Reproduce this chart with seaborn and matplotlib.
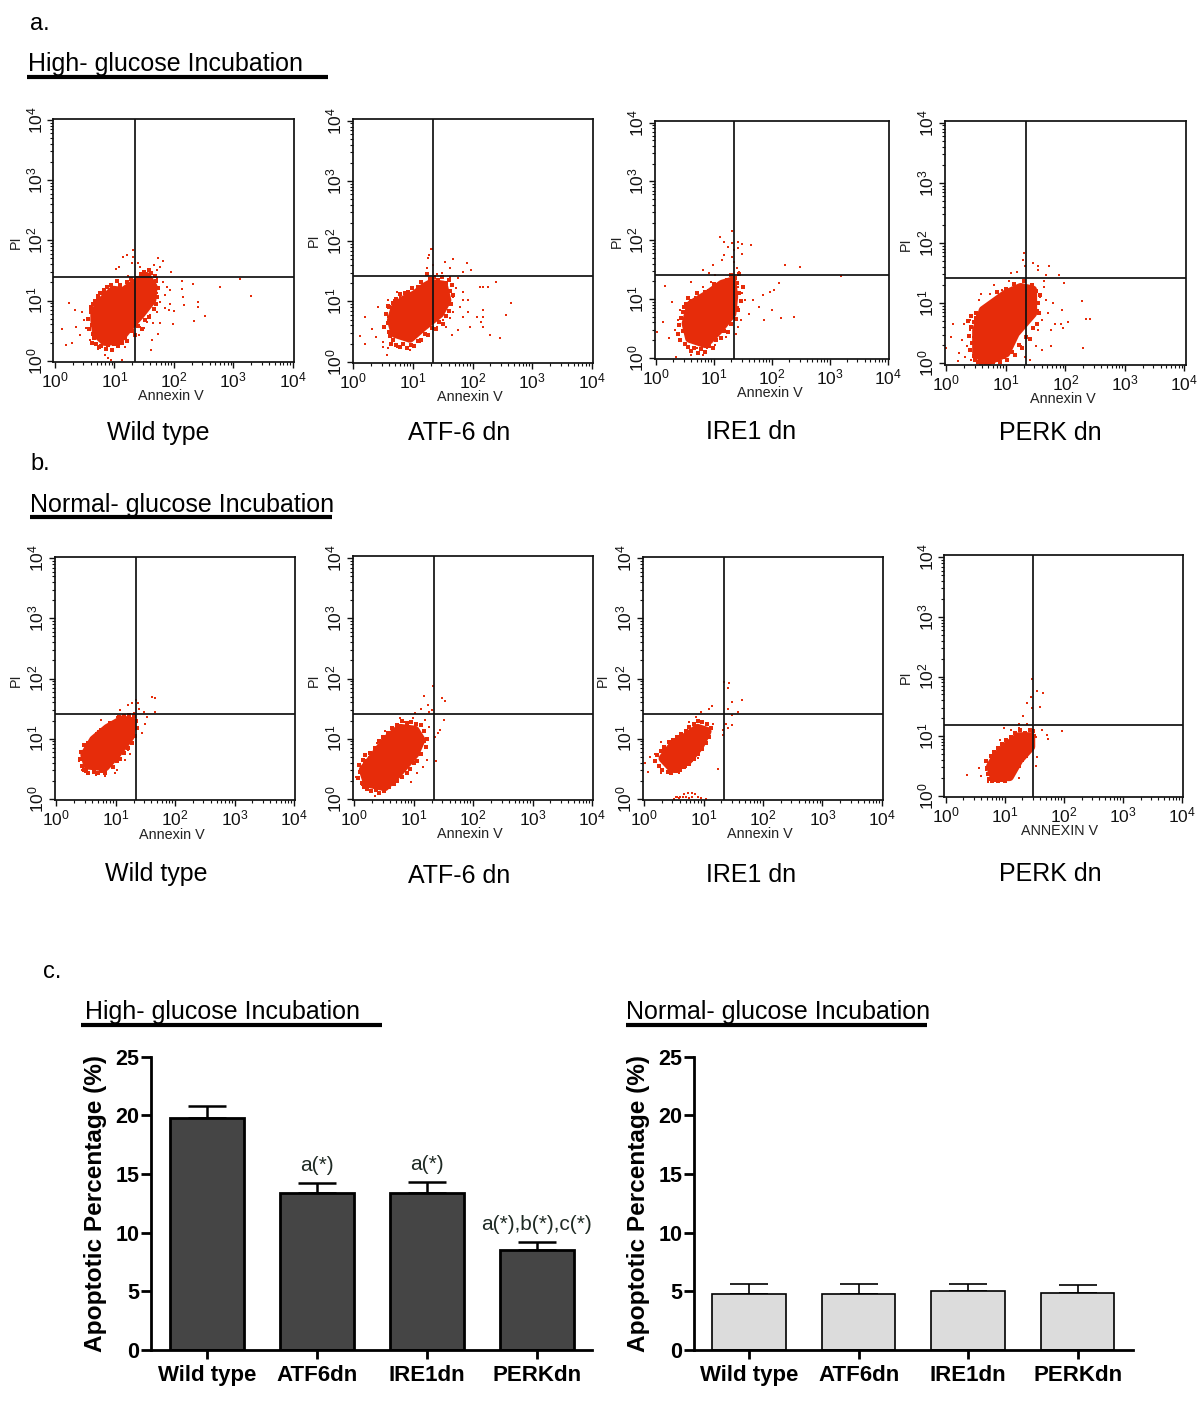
"""Flow cytometry panels and apoptosis bar charts"""
import numpy as np
import pandas as pd
import matplotlib
matplotlib.use('Agg')
import matplotlib.pyplot as plt
from matplotlib.lines import Line2D
import seaborn as sns

# flow data is in log10 decades.
# *_CORE is the outline of the solid part of each cloud, *_EDGE the crowded events
# along its rim, and the plain lists are the scattered single events
A1_CORE_X = [0.67, 0.70, 0.84, 1.07, 1.23, 1.43, 1.63, 1.65, 1.54, 1.35, 1.15, 0.98, 0.81, 0.67]
A1_CORE_Y = [0.68, 0.45, 0.32, 0.34, 0.54, 0.76, 1.01, 1.23, 1.40, 1.29, 1.15, 1.17, 1.01, 0.81]
A1_EDGE_X = [.60, .56, .62, .58, .64, .60, .66, .63, .69, .67, .74, .72, .78, .80, .86, .90, .96, 1.0, 1.06, 1.12, 1.18, 1.22, 1.30, 1.34, 1.40, 1.46, 1.52, 1.58, 1.66, 1.70, 1.72, 1.74, 1.70, 1.68, 1.62, 1.58, 1.50, 1.44, 1.38, 1.28, 1.22, 1.10, 1.04, .94, .88, .82, .76, .72, .68, .64]
A1_EDGE_Y = [.85, .70, .60, .52, .44, .90, .38, .30, .28, .95, .22, 1.05, .25, 1.12, .20, .26, .18, .27, .24, .30, .38, .33, .50, .42, .58, .52, .68, .72, .86, .95, 1.06, 1.20, 1.32, 1.40, 1.46, 1.50, 1.48, 1.44, 1.38, 1.36, 1.30, 1.25, 1.32, 1.26, 1.22, 1.18, 1.12, 1.08, 1.0, .95]
A1_X = [3.12, 3.29, 2.78, 2.53, 2.34, 2.40, 2.40, 2.32, 2.14, 2.13, 2.15, 2.17, 2.00, 1.99, 1.91, 1.32, 1.32, 1.29, 1.22, 1.14, 1.07, 1.03, 1.23, 1.40, 1.43, 1.73, 1.82, 1.67, 1.71, 1.95, 1.76, 1.54, 1.60, 1.71, 1.82, 1.88, 1.93, 1.85, 1.71, 1.77, 1.93, 1.85, 1.71, 1.60, 1.54, 1.43, 1.65, 1.77, 1.49, 1.63, 1.61, 1.74, 1.42, 1.18, 1.12, 0.95, 0.90, 0.84, 0.73, 0.59, 0.42, 0.28, 0.18, 0.12, 0.24, 0.34, 0.45, 0.48, 0.53, 0.59, 0.35, 0.70]
A1_Y = [1.35, 1.07, 1.22, 0.74, 0.66, 0.98, 0.90, 1.27, 1.32, 1.19, 1.06, 0.93, 0.83, 0.61, 0.84, 1.84, 1.73, 1.62, 1.76, 1.73, 1.56, 1.52, 1.41, 1.62, 1.56, 1.70, 1.65, 1.59, 1.51, 1.48, 1.56, 1.42, 1.42, 1.37, 1.31, 1.23, 1.17, 1.09, 1.12, 0.98, 0.95, 0.87, 0.81, 0.76, 0.65, 0.56, 0.62, 0.63, 0.54, 0.34, 0.17, 0.45, 0.43, 0.23, 0.01, 0.01, 0.04, 0.09, 0.20, 0.35, 0.43, 0.30, 0.26, 0.52, 0.96, 0.84, 0.81, 0.67, 0.54, 0.79, 0.56, 1.01]

A2_CORE_X = [0.64, 0.70, 0.95, 1.17, 1.45, 1.57, 1.51, 1.31, 1.20, 1.03, 0.84, 0.70]
A2_CORE_Y = [0.69, 0.47, 0.39, 0.58, 0.80, 1.02, 1.27, 1.30, 1.24, 1.11, 1.02, 0.89]
A2_EDGE_X = [.55, .58, .52, .60, .62, .58, .66, .64, .72, .70, .78, .84, .90, .96, 1.02, 1.08, 1.14, 1.20, 1.26, 1.32, 1.38, 1.44, 1.50, 1.55, 1.60, 1.64, 1.68, 1.62, 1.66, 1.60, 1.56, 1.48, 1.42, 1.36, 1.28, 1.24, 1.14, 1.08, .98, .92, .86, .78, .72, .66, .60]
A2_EDGE_Y = [.80, .65, .58, .50, .42, .92, .36, .30, .28, 1.0, .24, .30, .22, .28, .26, .34, .36, .46, .44, .56, .54, .66, .62, .76, .84, .96, 1.10, 1.18, 1.28, 1.36, 1.30, 1.40, 1.36, 1.40, 1.38, 1.46, 1.32, 1.24, 1.22, 1.16, 1.14, 1.12, 1.04, .98, .90]
A2_X = [1.32, 1.30, 1.27, 1.25, 1.33, 1.23, 1.23, 1.41, 1.54, 1.68, 1.90, 1.62, 1.98, 1.84, 1.76, 1.62, 1.48, 2.40, 2.26, 2.18, 2.12, 2.64, 2.57, 2.46, 2.29, 2.18, 2.18, 2.18, 2.15, 1.96, 1.93, 2.07, 1.93, 1.84, 1.84, 1.73, 1.68, 1.79, 1.68, 1.62, 1.51, 1.40, 1.56, 1.65, 1.76, 1.84, 0.11, 0.20, 0.20, 0.31, 0.38, 0.42, 0.50, 0.49, 0.57, 0.59, 0.73, 0.95, 1.12, 0.53, 0.59, 0.73, 0.78, 1.00, 0.59]
A2_Y = [1.87, 1.87, 1.77, 1.72, 1.60, 1.55, 1.45, 1.45, 1.66, 1.70, 1.63, 1.55, 1.52, 1.49, 1.39, 1.41, 1.47, 1.33, 1.24, 1.24, 1.24, 0.98, 0.77, 0.39, 0.45, 0.58, 0.75, 0.86, 0.66, 0.58, 0.83, 0.75, 1.02, 1.02, 1.16, 1.22, 1.08, 0.91, 0.83, 0.72, 0.69, 0.58, 0.58, 0.44, 0.53, 0.75, 0.43, 0.30, 0.75, 0.55, 0.41, 0.91, 0.33, 0.25, 0.11, 0.22, 0.25, 0.19, 0.33, 0.58, 1.02, 1.15, 1.08, 0.28, 0.75]

A3_CORE_X = [0.52, 0.58, 0.85, 1.08, 1.31, 1.34, 1.31, 1.14, 0.90, 0.60]
A3_CORE_Y = [0.58, 0.33, 0.24, 0.47, 0.75, 1.04, 1.30, 1.25, 1.08, 0.90]
A3_EDGE_X = [.44, .40, .46, .38, .42, .50, .48, .56, .52, .60, .66, .72, .78, .84, .92, .98, 1.04, 1.12, 1.18, 1.24, 1.30, 1.38, 1.42, 1.46, 1.44, 1.50, 1.40, 1.36, 1.44, 1.30, 1.22, 1.14, 1.06, 1.00, .92, .84, .76, .70, .62, .56, .50, .46]
A3_EDGE_Y = [.68, .56, .46, .40, .30, .24, .86, .18, .92, .12, .16, .08, .14, .10, .20, .16, .30, .34, .46, .44, .58, .66, .82, .96, 1.10, 1.20, 1.28, 1.36, 1.42, 1.40, 1.32, 1.28, 1.20, 1.26, 1.14, 1.12, 1.04, 1.10, .96, 1.02, .86, .78]
A3_X = [1.31, 1.11, 1.31, 1.41, 1.49, 1.64, 1.18, 1.24, 1.34, 1.18, 1.31, 1.14, 1.34, 1.42, 1.49, 1.40, 1.44, 0.98, 0.91, 0.81, 1.01, 2.23, 2.48, 3.19, 2.12, 2.04, 1.97, 0.60, 0.15, 1.84, 2.00, 2.16, 2.38, 1.87, 1.77, 1.67, 1.61, 1.54, 1.47, 1.41, 1.41, 1.49, 1.41, 1.38, 0.28, 0.12, 0.02, 0.22, 0.32, 0.42, 0.38, 0.58, 0.68, 0.81, 0.95, 0.71, 0.61, 0.81, 0.35, 1.01, 1.21, 0.88]
A3_Y = [2.16, 2.05, 1.95, 1.97, 1.93, 1.91, 1.97, 1.89, 1.83, 1.75, 1.72, 1.66, 1.63, 1.86, 1.76, 1.52, 1.46, 1.57, 1.44, 1.49, 1.41, 1.58, 1.55, 1.39, 1.28, 1.15, 1.12, 1.29, 1.22, 1.07, 0.81, 0.67, 0.70, 0.64, 0.87, 0.98, 0.75, 0.98, 0.64, 0.53, 0.87, 1.10, 1.21, 0.41, 0.95, 0.61, 0.43, 0.33, 0.47, 0.81, 0.64, 0.98, 1.04, 1.21, 1.29, 0.16, 0.05, 0.05, 0.01, 0.22, 0.36, 0.16]

A4_CORE_X = [0.51, 0.51, 0.68, 1.00, 1.16, 1.45, 1.45, 1.25, 1.00, 0.62]
A4_CORE_Y = [0.55, 0.17, 0.03, 0.17, 0.50, 0.83, 1.22, 1.26, 1.15, 0.88]
A4_EDGE_X = [.42, .38, .44, .40, .46, .36, .48, .42, .50, .54, .58, .62, .68, .72, .78, .84, .90, .96, 1.02, 1.10, 1.16, 1.22, 1.28, 1.34, 1.40, 1.46, 1.52, 1.56, 1.54, 1.58, 1.50, 1.44, 1.36, 1.30, 1.22, 1.14, 1.08, 1.00, .94, .86, .80, .72, .66, .60, .54, .50, .46]
A4_EDGE_Y = [.60, .46, .34, .22, .12, .70, .05, .78, .84, .02, .00, .02, .00, .03, .02, .06, .02, .10, .05, .18, .14, .30, .26, .44, .40, .58, .66, .84, 1.00, 1.14, 1.20, 1.30, 1.26, 1.36, 1.22, 1.32, 1.20, 1.24, 1.14, 1.18, 1.04, .98, .92, .90, .80, .76, .68]
A4_X = [1.31, 1.29, 1.32, 1.45, 1.54, 1.72, 1.54, 1.09, 1.19, 1.67, 1.90, 1.97, 1.64, 1.64, 1.06, 0.80, 0.74, 0.58, 0.93, 1.16, 1.58, 1.67, 1.80, 1.94, 2.28, 2.35, 2.42, 2.30, 2.04, 1.93, 1.96, 1.83, 1.76, 1.76, 1.61, 1.54, 1.61, 1.54, 1.71, 1.51, 1.41, 1.32, 1.25, 0.00, 0.08, 0.19, 0.11, 0.29, 0.39, 0.26, 0.35, 0.22, 0.42, 0.55, 0.61, 0.45, 0.39, 0.32]
A4_Y = [1.84, 1.72, 1.61, 1.66, 1.61, 1.62, 1.55, 1.50, 1.52, 1.47, 1.46, 1.33, 1.36, 1.27, 1.36, 1.30, 1.16, 1.16, 1.22, 1.25, 1.11, 1.05, 1.00, 0.88, 1.04, 0.74, 0.74, 0.25, 0.69, 0.66, 0.58, 0.66, 0.55, 0.28, 0.22, 0.55, 0.72, 0.89, 0.83, 0.28, 0.06, 0.11, 0.28, 0.25, 0.44, 0.03, 0.66, 0.66, 0.72, 0.39, 0.28, 0.17, 0.06, 1.05, 0.89, 0.44, 0.55, 0.11]

B1_CORE_X = [0.48, 0.53, 0.82, 1.02, 1.24, 1.28, 1.11, 0.86, 0.63]
B1_CORE_Y = [0.73, 0.56, 0.53, 0.75, 1.03, 1.28, 1.31, 1.17, 0.98]
B1_EDGE_X = [.42, .40, .44, .46, .50, .46, .54, .58, .64, .70, .76, .82, .90, .96, 1.02, 1.08, 1.14, 1.20, 1.28, 1.32, 1.36, 1.34, 1.30, 1.22, 1.14, 1.06, .98, .90, .82, .76, .68, .60, .54]
B1_EDGE_Y = [.78, .66, .55, .48, .46, .90, .42, .96, .44, .42, .46, .42, .56, .52, .62, .66, .76, .84, .92, 1.04, 1.18, 1.30, 1.38, 1.40, 1.38, 1.36, 1.28, 1.26, 1.18, 1.14, 1.08, 1.00, .92]
B1_X = [1.34, 1.38, 1.28, 1.21, 1.61, 1.66, 1.66, 1.53, 1.50, 1.45, 1.40, 1.47, 1.31, 1.08, 1.21, 1.24, 1.15, 1.02, 0.82, 0.66, 0.53, 0.44, 0.39, 0.76, 0.71, 0.60, 0.99, 1.02, 1.31]
B1_Y = [1.64, 1.59, 1.59, 1.56, 1.70, 1.67, 1.45, 1.36, 1.25, 1.09, 1.50, 1.45, 1.42, 1.48, 0.81, 0.75, 0.64, 0.48, 0.38, 0.39, 0.41, 0.48, 0.62, 1.31, 1.12, 0.92, 0.42, 1.36, 1.20]

B2_CORE_X = [0.15, 0.22, 0.51, 0.73, 1.02, 1.12, 1.02, 0.77, 0.54, 0.28]
B2_CORE_Y = [0.48, 0.26, 0.20, 0.42, 0.75, 0.98, 1.14, 1.17, 0.98, 0.64]
B2_EDGE_X = [.08, .10, .06, .12, .16, .18, .22, .28, .36, .42, .50, .58, .66, .72, .80, .88, .94, 1.00, 1.06, 1.12, 1.20, 1.22, 1.18, 1.12, 1.04, .96, .88, .80, .72, .64, .56, .48, .42, .34, .26, .18, .14]
B2_EDGE_Y = [.56, .44, .34, .26, .20, .62, .16, .12, .14, .10, .12, .20, .24, .30, .36, .42, .50, .60, .62, .74, .86, 1.00, 1.12, 1.22, 1.24, 1.28, 1.26, 1.30, 1.22, 1.18, 1.10, 1.02, .96, .84, .76, .72, .64]
B2_X = [1.33, 1.47, 1.52, 1.17, 1.24, 1.12, 1.31, 1.25, 1.02, 1.51, 1.44, 1.41, 1.35, 1.25, 1.19, 0.99, 0.77, 0.86, 0.61, 0.51, 0.38, 0.25, 0.03, 0.12, 0.35, 0.48, 0.73, 0.96, 1.06, 1.22, 1.37, 1.15, 1.22, 1.19]
B2_Y = [1.88, 1.68, 1.63, 1.71, 1.56, 1.50, 1.48, 1.45, 1.42, 1.31, 1.14, 1.09, 1.03, 1.20, 1.31, 1.34, 1.34, 1.28, 1.20, 1.12, 0.92, 0.70, 0.36, 0.23, 0.04, 0.17, 0.28, 0.28, 0.42, 0.64, 0.63, 0.53, 0.84, 0.95]

B3_CORE_X = [0.32, 0.48, 0.74, 0.93, 1.06, 0.90, 0.71, 0.51]
B3_CORE_Y = [0.67, 0.50, 0.64, 0.87, 1.12, 1.17, 1.03, 0.92]
B3_EDGE_X = [.22, .18, .26, .30, .34, .40, .46, .54, .60, .68, .76, .84, .90, .98, 1.04, 1.10, 1.12, 1.06, .98, .90, .84, .76, .70, .62, .56, .48, .42, .34, .28]
B3_EDGE_Y = [.72, .62, .54, .48, .82, .44, .42, .46, .48, .52, .58, .66, .74, .82, .92, 1.02, 1.18, 1.24, 1.28, 1.30, 1.24, 1.20, 1.12, 1.08, 1.02, .98, .94, .86, .80]
B3_X = [1.35, 1.43, 1.41, 1.65, 1.48, 1.41, 1.58, 1.48, 1.14, 1.09, 0.96, 1.38, 1.48, 1.32, 1.41, 1.32, 1.25, 0.87, 0.75, 1.16, 1.13, 1.03, 0.90, 0.80, 0.71, 0.58, 0.42, 0.29, 0.06, 0.02, 0.10, 0.29, 0.19, 0.51, 0.55, 0.60, 0.68, 0.74, 0.80, 0.85, 0.90, 0.95, 1.04, 0.65, 0.70, 0.75, 0.80, 0.58, 0.53]
B3_Y = [1.95, 1.93, 1.84, 1.64, 1.61, 1.50, 1.45, 1.39, 1.54, 1.50, 1.45, 1.25, 1.23, 1.14, 1.17, 1.06, 0.50, 1.36, 1.28, 1.25, 1.20, 0.92, 0.67, 0.62, 0.53, 0.42, 0.47, 0.42, 0.44, 0.59, 0.70, 0.95, 0.75, 0.00, 0.03, 0.03, 0.08, 0.10, 0.10, 0.07, 0.03, 0.01, 0.00, 0.02, 0.02, 0.01, 0.02, 0.01, 0.02]

B4_CORE_X = [0.76, 0.82, 1.08, 1.24, 1.44, 1.44, 1.24, 1.02, 0.85]
B4_CORE_Y = [0.49, 0.32, 0.32, 0.60, 0.82, 0.99, 0.99, 0.82, 0.65]
B4_EDGE_X = [.68, .70, .72, .74, .78, .82, .88, .94, 1.00, 1.06, 1.12, 1.18, 1.24, 1.30, 1.36, 1.42, 1.48, 1.50, 1.48, 1.42, 1.34, 1.26, 1.18, 1.10, 1.02, .96, .88, .82, .76]
B4_EDGE_Y = [.58, .46, .36, .28, .24, .26, .24, .26, .24, .28, .36, .44, .50, .60, .66, .76, .86, 1.00, 1.08, 1.10, 1.06, 1.10, 1.06, .98, .94, .86, .80, .74, .66]
B4_X = [1.46, 1.65, 1.55, 1.44, 1.37, 1.47, 1.60, 1.31, 1.24, 1.37, 1.63, 1.72, 1.73, 1.97, 1.53, 1.55, 1.53, 1.47, 0.98, 0.92, 1.11, 1.24, 0.37, 0.56, 0.60, 0.72, 0.95, 1.24, 0.69, 0.76, 0.85, 1.18, 0.89]
B4_Y = [1.96, 1.72, 1.75, 1.66, 1.55, 1.47, 1.49, 1.33, 1.21, 1.21, 1.10, 1.02, 0.95, 1.09, 0.99, 0.65, 0.50, 0.93, 1.13, 0.93, 1.10, 1.13, 0.34, 0.46, 0.33, 0.23, 0.26, 0.29, 0.43, 0.60, 0.74, 0.49, 0.26]

GATES_X = [22, 22, 22, 22, 22, 22, 22, 30]
GATES_Y = [25, 26, 26, 26, 26, 26, 26, 15.6]
DECADES = [0, 1, 2, 3, 4]

# bar data
GROUPS = ['Wild type', 'ATF6dn', 'IRE1dn', 'PERKdn']
HIGH_MEAN = [19.8, 13.4, 13.4, 8.5]
HIGH_SEM = [1.0, 0.8, 0.9, 0.7]
NORMAL_MEAN = [4.8, 4.75, 5.0, 4.9]
NORMAL_SEM = [0.8, 0.9, 0.65, 0.6]
HIGH_MARKS = ['', 'a(*)', 'a(*)', 'a(*),b(*),c(*)']
BAR_TICKS = [0, 5, 10, 15, 20, 25]

W, H = 1200, 1410
RED = '#e62c0a'
INK = '#111111'

sns.set_style('white')
plt.rcParams['font.family'] = ['Liberation Sans', 'DejaVu Sans']
plt.rcParams['mathtext.default'] = 'regular'
plt.rcParams['text.color'] = 'black'

fig = plt.figure(figsize=(W / 100, H / 100), dpi=100, facecolor='white')


def px_axes(left, top, right, bottom):
    """Axes placed with pixel edges measured from the top left."""
    return fig.add_axes([left / W, 1 - bottom / H, (right - left) / W, (bottom - top) / H])


def px_text(x, y, s, **kw):
    kw.setdefault('ha', 'center')
    kw.setdefault('va', 'center')
    fig.text(x / W, 1 - y / H, s, **kw)


def heading(text_x, base_y, s, x0, x1, line_y):
    px_text(text_x, base_y, s, ha='left', va='baseline', fontsize=18)
    fig.add_artist(Line2D([x0 / W, x1 / W], [1 - line_y / H] * 2, color='black', lw=3.0,
                          solid_capstyle='butt'))


def flow_panel(frame, ticks, core, edge, events, gate_x, gate_y):
    left, top, right, bottom = frame
    x0, x4, y4, y0 = ticks
    ax = px_axes(left, top, right, bottom)
    ax.set_xscale('log')
    ax.set_yscale('log')
    dx = (x4 - x0) / 4
    dy = (y0 - y4) / 4
    ax.set_xlim(10 ** ((left - x0) / dx), 10 ** ((right - x0) / dx))
    ax.set_ylim(10 ** ((y0 - bottom) / dy), 10 ** ((y0 - top) / dy))
    # thick outline closes the gap between the solid part and its rim of events
    ax.fill(10 ** np.array(core[0]), 10 ** np.array(core[1]), color=RED, lw=6.5, joinstyle='round', zorder=2)
    sns.scatterplot(x=10 ** np.array(edge[0]), y=10 ** np.array(edge[1]), ax=ax, color=RED, marker='s',
                    s=5, linewidth=0, zorder=2)
    sns.scatterplot(x=10 ** np.array(events[0]), y=10 ** np.array(events[1]), ax=ax, color=RED, marker='s',
                    s=3.4, linewidth=0, zorder=2)
    ax.axvline(gate_x, color=INK, lw=1.25, zorder=3)
    ax.axhline(gate_y, color=INK, lw=1.25, zorder=3)
    for sp in ax.spines.values():
        sp.set_visible(True)
        sp.set_color(INK)
        sp.set_linewidth(1.25)
    vals = [10.0 ** d for d in DECADES]
    labels = ['$10^{%d}$' % d for d in DECADES]
    ax.set_xticks(vals)
    ax.set_xticklabels(labels)
    ax.set_yticks(vals)
    ax.set_yticklabels(labels, rotation=90, va='center')
    ax.xaxis.set_minor_locator(matplotlib.ticker.LogLocator(base=10, subs=range(2, 10), numticks=10))
    ax.yaxis.set_minor_locator(matplotlib.ticker.LogLocator(base=10, subs=range(2, 10), numticks=10))
    ax.xaxis.set_minor_formatter(matplotlib.ticker.NullFormatter())
    ax.yaxis.set_minor_formatter(matplotlib.ticker.NullFormatter())
    ax.tick_params(which='major', bottom=True, left=True, length=4, width=1, labelsize=12.5,
                   pad=2, colors=INK)
    ax.tick_params(which='minor', bottom=True, left=True, length=2.2, width=0.8, colors=INK)
    return ax


def bar_panel(frame, means, sems, fill, edge_lw, err_lw, xlim, marks=None):
    left, top, right, bottom = frame
    ax = px_axes(left, top, right, bottom)
    df = pd.DataFrame({'group': GROUPS, 'mean': means})
    sns.barplot(data=df, x='group', y='mean', color=fill, saturation=1, width=0.67,
                edgecolor='black', linewidth=edge_lw, ax=ax, zorder=2)
    ax.errorbar(range(len(GROUPS)), means, yerr=[[0] * len(sems), sems], fmt='none', ecolor='black',
                elinewidth=err_lw, capsize=13.5, capthick=err_lw, zorder=1)
    ax.set_xlim(*xlim)
    ax.set_ylim(0, 25)
    ax.set_yticks(BAR_TICKS)
    ax.set_xlabel('')
    ax.set_ylabel('')
    sns.despine(ax=ax)
    ax.spines['left'].set_linewidth(2)
    ax.spines['bottom'].set_linewidth(2)
    ax.spines['left'].set_color('black')
    ax.spines['bottom'].set_color('black')
    ax.tick_params(axis='y', left=True, length=7.5, width=2, labelsize=15.5, pad=1, colors='black')
    ax.tick_params(axis='x', bottom=True, length=6.5, width=2, labelsize=16, pad=4, colors='black')
    for lab in ax.get_xticklabels() + ax.get_yticklabels():
        lab.set_fontweight('bold')
    if marks:
        for i, mark in enumerate(marks):
            ax.text(i, means[i] + sems[i] + 1.5, mark, ha='center', va='center',
                    fontsize=15, color='#1f2a24')
    return ax


# scatter panels: frame (l, t, r, b) and tick pixels (x 10^0, x 10^4, y 10^4, y 10^0)
flow_panel((53.3, 119, 293.7, 362), (55, 292.7, 120, 360.7), (A1_CORE_X, A1_CORE_Y), (A1_EDGE_X, A1_EDGE_Y), (A1_X, A1_Y), GATES_X[0], GATES_Y[0])
flow_panel((352.7, 119.3, 593.3, 362.7), (353.3, 591.7, 120.7, 361.7), (A2_CORE_X, A2_CORE_Y), (A2_EDGE_X, A2_EDGE_Y), (A2_X, A2_Y), GATES_X[1], GATES_Y[1])
flow_panel((654.7, 121, 889.3, 359), (656, 887.8, 122.7, 357.7), (A3_CORE_X, A3_CORE_Y), (A3_EDGE_X, A3_EDGE_Y), (A3_X, A3_Y), GATES_X[2], GATES_Y[2])
flow_panel((944.8, 121, 1185.5, 365), (946.3, 1184.4, 122.7, 363.3), (A4_CORE_X, A4_CORE_Y), (A4_EDGE_X, A4_EDGE_Y), (A4_X, A4_Y), GATES_X[3], GATES_Y[3])
flow_panel((54.7, 556.7, 295, 800), (56.3, 293.9, 558.3, 798.7), (B1_CORE_X, B1_CORE_Y), (B1_EDGE_X, B1_EDGE_Y), (B1_X, B1_Y), GATES_X[4], GATES_Y[4])
flow_panel((352.8, 556, 593.2, 800), (354.4, 592, 558.3, 798.7), (B2_CORE_X, B2_CORE_Y), (B2_EDGE_X, B2_EDGE_Y), (B2_X, B2_Y), GATES_X[5], GATES_Y[5])
flow_panel((642.5, 556.7, 883.2, 800), (644, 882, 558.3, 798.7), (B3_CORE_X, B3_CORE_Y), (B3_EDGE_X, B3_EDGE_Y), (B3_X, B3_Y), GATES_X[6], GATES_Y[6])
flow_panel((944.4, 555.3, 1183.2, 797), (945.6, 1182, 557.3, 795.7), (B4_CORE_X, B4_CORE_Y), (B4_EDGE_X, B4_EDGE_Y), (B4_X, B4_Y), GATES_X[7], GATES_Y[7])

# bar panels
bar_panel((151.3, 1056.7, 592, 1350), HIGH_MEAN, HIGH_SEM, '#454545', 2.0, 1.8, (-0.505, 3.5), HIGH_MARKS)
bar_panel((694.4, 1056.7, 1133.4, 1350), NORMAL_MEAN, NORMAL_SEM, '#dcdcdc', 1.2, 1.2, (-0.5, 3.51))

# panel letters and headings
px_text(30, 24, 'a.', ha='left', fontsize=17)
px_text(30, 464, 'b.', ha='left', fontsize=17)
px_text(43, 972, 'c.', ha='left', fontsize=17)
heading(28, 71, 'High- glucose Incubation', 27, 328, 76.5)
heading(30, 512, 'Normal- glucose Incubation', 30, 332, 517)
heading(85, 1019, 'High- glucose Incubation', 81, 382, 1025)
heading(626, 1019, 'Normal- glucose Incubation', 626, 927, 1025)

# condition names under the scatter panels
for x, y, name in [(158, 433, 'Wild type'), (459, 433, 'ATF-6 dn'), (751, 432, 'IRE1 dn'), (1050, 433, 'PERK dn'),
                   (156, 874, 'Wild type'), (459, 876, 'ATF-6 dn'), (751, 875, 'IRE1 dn'), (1050, 874, 'PERK dn')]:
    px_text(x, y, name, fontsize=18)

# axis names of the scatter panels
for x, y, name in [(171, 396, 'Annexin V'), (470, 397, 'Annexin V'), (770, 393, 'Annexin V'), (1063, 399, 'Annexin V'),
                   (172, 835, 'Annexin V'), (470, 834, 'Annexin V'), (760, 834, 'Annexin V'), (1060, 831, 'ANNEXIN V')]:
    px_text(x, y, name, fontsize=10.4, color='#222222')
for x, y in [(16, 242), (314, 240), (617, 241), (906, 244), (16, 680), (314, 680), (603, 680), (906, 677)]:
    px_text(x, y, 'PI', fontsize=10.4, rotation=90, color='#222222')

# bar chart y labels
px_text(96, 1203, 'Apoptotic Percentage (%)', rotation=90, fontsize=17.6, fontweight='bold')
px_text(638, 1203, 'Apoptotic Percentage (%)', rotation=90, fontsize=17.6, fontweight='bold')

fig.savefig('out.png', dpi=100, facecolor='white')
